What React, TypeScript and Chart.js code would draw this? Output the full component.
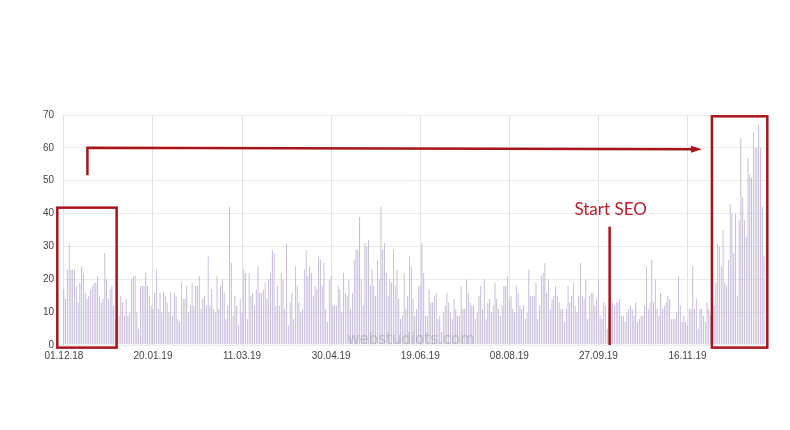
import React, { useEffect, useRef } from 'react';
import { Chart, registerables } from 'chart.js';

Chart.register(...registerables);

// Daily visits, starting 01.12.2018 (one value per day)
const visits: number[] = [
  17, 14, 23, 31, 23, 23, 23, 18, 13, 19,
  24, 22, 16, 14, 15, 17, 18, 19, 19, 21,
  15, 13, 14, 28, 20, 14, 17, 18, 12, 8,
  8, 9, 15, 13, 9, 14, 9, 10, 20, 21,
  21, 10, 5, 18, 18, 18, 22, 18, 15, 12,
  11, 16, 23, 11, 16, 10, 16, 15, 13, 10,
  16, 9, 16, 15, 8, 7, 19, 14, 14, 18,
  10, 12, 19, 12, 18, 18, 21, 11, 14, 15,
  12, 27, 12, 17, 11, 10, 21, 11, 18, 20,
  16, 8, 12, 42, 25, 9, 15, 12, 6, 14,
  10, 23, 22, 8, 22, 15, 16, 12, 17, 24,
  16, 16, 17, 19, 14, 20, 22, 29, 28, 12,
  18, 12, 22, 20, 11, 31, 6, 13, 16, 8,
  24, 18, 13, 10, 11, 23, 29, 21, 24, 22,
  15, 18, 17, 27, 26, 18, 25, 11, 7, 20,
  21, 12, 12, 12, 18, 17, 10, 22, 16, 15,
  20, 11, 16, 26, 29, 29, 39, 20, 12, 31,
  30, 32, 18, 23, 18, 15, 26, 20, 42, 29,
  31, 22, 15, 20, 19, 29, 18, 23, 14, 8,
  9, 22, 11, 15, 27, 24, 14, 9, 11, 18,
  18, 31, 22, 9, 9, 17, 13, 13, 15, 16,
  8, 9, 4, 10, 12, 16, 13, 10, 8, 14,
  11, 9, 9, 18, 11, 11, 20, 16, 13, 12,
  12, 8, 10, 15, 18, 11, 20, 8, 13, 14,
  10, 12, 19, 14, 11, 9, 12, 18, 18, 21,
  14, 15, 11, 10, 18, 16, 12, 11, 12, 8,
  10, 23, 15, 15, 15, 19, 8, 12, 21, 22,
  25, 16, 20, 11, 14, 15, 18, 15, 13, 11,
  11, 7, 11, 18, 13, 15, 19, 12, 10, 15,
  25, 15, 14, 20, 8, 15, 16, 16, 12, 14,
  20, 9, 8, 13, 12, 5, 10, 11, 13, 12,
  13, 13, 14, 9, 9, 7, 10, 11, 12, 11,
  9, 13, 7, 8, 9, 9, 12, 24, 11, 13,
  26, 13, 20, 11, 9, 16, 11, 12, 13, 15,
  14, 8, 8, 8, 10, 21, 12, 7, 9, 7,
  6, 11, 11, 24, 11, 14, 5, 11, 11, 9,
  7, 13, 11, 9, 13, 12, 19, 31, 30, 24,
  35, 19, 18, 26, 43, 40, 28, 40, 15, 38,
  63, 45, 38, 33, 57, 52, 51, 65, 60, 60,
  67, 60, 42, 27,
];

const startYear = 2018;
const startMonth = 11; // December (0-based)
const startDay = 1;
const tickEvery = 50;
const tickLabels = ['01.12.18', '20.01.19', '11.03.19', '30.04.19', '19.06.19', '08.08.19', '27.09.19', '16.11.19'];
const yMax = 70;
const yStep = 10;

const pad2 = (n: number) => (n < 10 ? '0' + n : '' + n);
const categories = visits.map((_, i) => {
  const d = new Date(startYear, startMonth, startDay + i);
  return pad2(d.getDate()) + '.' + pad2(d.getMonth() + 1) + '.' + pad2(d.getFullYear() % 100);
});

// Annotations in data coordinates (category index, value)
const leftBox = { x0: -3.7, x1: 29.6, y0: -0.8, y1: 41.8 };
const rightBox = { x0: 363.7, x1: 394.8, y0: -0.8, y1: 69.6 };
const arrowPath = { x0: 13.2, yStart: 51.7, yTop: 60.0, x1: 358.1, yEnd: 59.6 };
const seoMarker = { x: 306.3, yTop: 36.0, textY: 39.6, text: 'Start SEO' };
const watermark = { x: 194.8, y: 0.3, text: 'webstudiots.com' };

const RED = '#a9141c';

const annotationPlugin = {
  id: 'seoAnnotations',
  afterDraw(chart: any) {
    const { ctx, scales } = chart;
    const xs = scales.x;
    const ys = scales.y;
    const px = (v: number) => xs.getPixelForValue(v);
    const py = (v: number) => ys.getPixelForValue(v);
    ctx.save();

    // watermark
    ctx.font = '15px "DejaVu Sans", sans-serif';
    ctx.fillStyle = 'rgba(120,120,120,0.35)';
    ctx.textAlign = 'center';
    ctx.textBaseline = 'alphabetic';
    ctx.fillText(watermark.text, px(watermark.x), py(watermark.y));

    ctx.strokeStyle = RED;
    ctx.lineWidth = 2.5;
    ctx.lineJoin = 'miter';

    // boxes
    for (const b of [leftBox, rightBox]) {
      const x0 = px(b.x0), x1 = px(b.x1), y0 = py(b.y1), y1 = py(b.y0);
      ctx.strokeRect(x0, y0, x1 - x0, y1 - y0);
    }

    // arrow
    const ax0 = px(arrowPath.x0);
    const ax1 = px(arrowPath.x1);
    const ayS = py(arrowPath.yStart);
    const ayT = py(arrowPath.yTop);
    const ayE = py(arrowPath.yEnd);
    ctx.beginPath();
    ctx.moveTo(ax0, ayS);
    ctx.lineTo(ax0, ayT);
    ctx.lineTo(ax1 - 9, ayE);
    ctx.stroke();
    ctx.fillStyle = RED;
    ctx.beginPath();
    ctx.moveTo(ax1, ayE);
    ctx.lineTo(ax1 - 11, ayE - 3.5);
    ctx.lineTo(ax1 - 11, ayE + 3.5);
    ctx.closePath();
    ctx.fill();

    // Start SEO marker
    const sx = px(seoMarker.x);
    ctx.beginPath();
    ctx.moveTo(sx, py(seoMarker.yTop));
    ctx.lineTo(sx, py(0));
    ctx.stroke();
    ctx.font = '17px Lato, "Open Sans", sans-serif';
    ctx.fillStyle = '#bb1e28';
    ctx.textAlign = 'center';
    ctx.textBaseline = 'alphabetic';
    ctx.fillText(seoMarker.text, sx + 1, py(seoMarker.textY));

    ctx.restore();
  },
};

export default function App() {
  const ref = useRef<HTMLCanvasElement | null>(null);

  useEffect(() => {
    if (!ref.current) return;
    const chart = new Chart(ref.current, {
      type: 'bar',
      data: {
        labels: categories,
        datasets: [
          {
            data: visits,
            backgroundColor: '#c9b9e2',
            borderColor: '#a89db9',
            borderWidth: { left: 0.7, right: 0, top: 0, bottom: 0 },
            borderSkipped: false,
            barPercentage: 1,
            categoryPercentage: 0.72,
          },
        ],
      },
      options: {
        responsive: false,
        animation: false,
        devicePixelRatio: 1,
        layout: { padding: { left: 0, right: 25, top: 115, bottom: 0 } },
        plugins: {
          legend: { display: false },
          tooltip: { enabled: false },
        },
        scales: {
          x: {
            type: 'category',
            offset: true,
            grid: {
              offset: false,
              drawTicks: false,
              color: '#e2e2e2',
              lineWidth: 1,
            },
            border: { display: false },
            ticks: {
              autoSkip: false,
              maxRotation: 0,
              minRotation: 0,
              padding: 5,
              color: '#444',
              font: { family: '"Liberation Sans", Arial, sans-serif', size: 10 },
              callback: (_v: any, idx: number) =>
                idx % tickEvery === 0 ? tickLabels[idx / tickEvery] ?? categories[idx] : null,
            },
            afterFit: (s: any) => {
              s.height = 85;
            },
          },
          y: {
            min: 0,
            max: yMax,
            grid: { drawTicks: false, color: '#ebebeb', lineWidth: 1 },
            border: { display: true, color: '#e2e2e2' },
            ticks: {
              stepSize: yStep,
              padding: 9,
              color: '#444',
              font: { family: '"Liberation Sans", Arial, sans-serif', size: 10 },
            },
            afterFit: (s: any) => {
              s.width = 63;
            },
          },
        },
      },
      plugins: [annotationPlugin],
    } as any);
    return () => chart.destroy();
  }, []);

  return (
    <div style={{ position: 'absolute', left: 0, top: 0, width: 790, height: 430, background: '#fff' }}>
      <canvas ref={ref} width={790} height={430} style={{ display: 'block' }} />
    </div>
  );
}
